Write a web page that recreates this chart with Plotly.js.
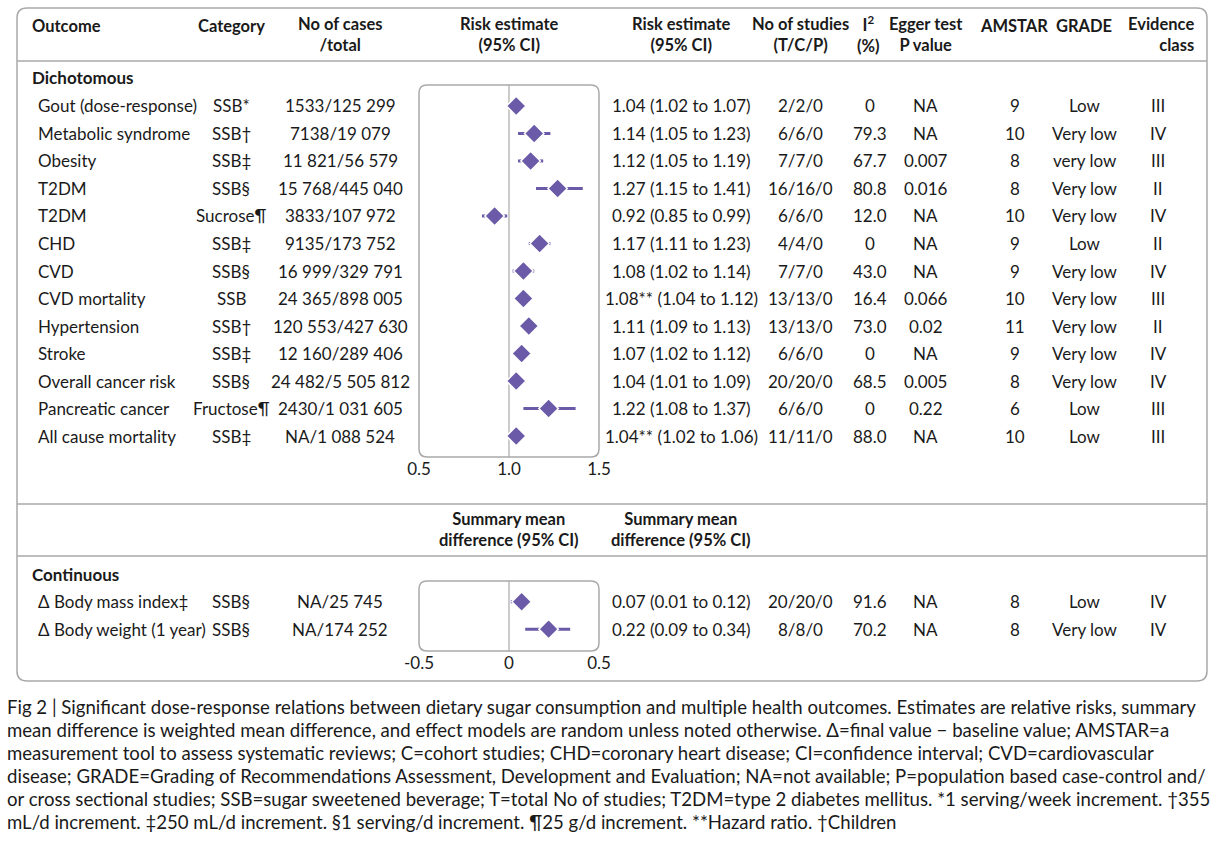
<!DOCTYPE html>
<html>
<head>
<meta charset="utf-8">
<script src="https://cdn.plot.ly/plotly-3.0.1.min.js"></script>
<style>html,body{margin:0;padding:0;background:#fff;}#chart{width:1221px;height:841px;}</style>
</head>
<body>
<div id="chart"></div>
<script>
// ---------------- DATA ----------------
const outcomes = ["Gout (dose-response)", "Metabolic syndrome", "Obesity", "T2DM", "T2DM", "CHD", "CVD", "CVD mortality", "Hypertension", "Stroke", "Overall cancer risk", "Pancreatic cancer", "All cause mortality"];
const categories = ["SSB*", "SSB†", "SSB‡", "SSB§", "Sucrose¶", "SSB‡", "SSB§", "SSB", "SSB†", "SSB‡", "SSB§", "Fructose¶", "SSB‡"];
const cases = ["1533/125 299", "7138/19 079", "11 821/56 579", "15 768/445 040", "3833/107 972", "9135/173 752", "16 999/329 791", "24 365/898 005", "120 553/427 630", "12 160/289 406", "24 482/5 505 812", "2430/1 031 605", "NA/1 088 524"];
const estimate = [1.04, 1.14, 1.12, 1.27, 0.92, 1.17, 1.08, 1.08, 1.11, 1.07, 1.04, 1.22, 1.04];
const ciLow    = [1.02, 1.05, 1.05, 1.15, 0.85, 1.11, 1.02, 1.04, 1.09, 1.02, 1.01, 1.08, 1.02];
const ciHigh   = [1.07, 1.23, 1.19, 1.41, 0.99, 1.23, 1.14, 1.12, 1.13, 1.12, 1.09, 1.37, 1.06];
const estNote  = ["", "", "", "", "", "", "", "**", "", "", "", "", "**"];
const studies = ["2/2/0", "6/6/0", "7/7/0", "16/16/0", "6/6/0", "4/4/0", "7/7/0", "13/13/0", "13/13/0", "6/6/0", "20/20/0", "6/6/0", "11/11/0"];
const i2 = ["0", "79.3", "67.7", "80.8", "12.0", "0", "43.0", "16.4", "73.0", "0", "68.5", "0", "88.0"];
const egger = ["NA", "NA", "0.007", "0.016", "NA", "NA", "NA", "0.066", "0.02", "NA", "0.005", "0.22", "NA"];
const amstar = ["9", "10", "8", "8", "10", "9", "9", "10", "11", "9", "8", "6", "10"];
const grade = ["Low", "Very low", "very low", "Very low", "Very low", "Low", "Very low", "Very low", "Very low", "Very low", "Very low", "Low", "Low"];
const evidence = ["III", "IV", "III", "II", "IV", "II", "IV", "III", "II", "IV", "IV", "III", "III"];

const contOutcomes = ["Δ Body mass index‡", "Δ Body weight (1 year)"];
const contCategories = ["SSB§", "SSB§"];
const contCases = ["NA/25 745", "NA/174 252"];
const contEstimate = [0.07, 0.22];
const contLow = [0.01, 0.09];
const contHigh = [0.12, 0.34];
const contStudies = ["20/20/0", "8/8/0"];
const contI2 = ["91.6", "70.2"];
const contEgger = ["NA", "NA"];
const contAmstar = ["8", "8"];
const contGrade = ["Low", "Very low"];
const contEvidence = ["IV", "IV"];

const riskTicks = [0.5, 1.0, 1.5];
const riskTickText = ["0.5", "1.0", "1.5"];
const diffTicks = [-0.5, 0, 0.5];
const diffTickText = ["-0.5", "0", "0.5"];

const headerLine1 = ["Outcome", "Category", "No of cases", "Risk estimate", "Risk estimate", "No of studies", "I<sup>2</sup>", "Egger test", "AMSTAR", "GRADE", "Evidence"];
const headerLine2 = ["", "", "/total", "(95% CI)", "(95% CI)", "(T/C/P)", "(%)", "P value", "", "", "class"];
const contHeaderLine1 = ["Summary mean", "Summary mean"];
const contHeaderLine2 = ["difference (95% CI)", "difference (95% CI)"];
const sectionLabels = ["Dichotomous", "Continuous"];

const captionLines = [
  "Fig 2 | Significant dose-response relations between dietary sugar consumption and multiple health outcomes. Estimates are relative risks, summary",
  "mean difference is weighted mean difference, and effect models are random unless noted otherwise. Δ=final value − baseline value; AMSTAR=a",
  "measurement tool to assess systematic reviews; C=cohort studies; CHD=coronary heart disease; CI=confidence interval; CVD=cardiovascular",
  "disease; GRADE=Grading of Recommendations Assessment, Development and Evaluation; NA=not available; P=population based case-control and/",
  "or cross sectional studies; SSB=sugar sweetened beverage; T=total No of studies; T2DM=type 2 diabetes mellitus. *1 serving/week increment. †355",
  "mL/d increment. ‡250 mL/d increment. §1 serving/d increment. ¶25 g/d increment. **Hazard ratio. †Children"
];

// ---------------- LAYOUT HELPERS ----------------
const W = 1221, H = 841;
const px = x => x / W;
const py = y => 1 - y / H;
const FONT = "Lato, 'Open Sans', sans-serif";
const TXT = "#1a1a1a";
const PURPLE = "#6a5aa7";
const GREY = "#a9a9a9";
const FS = 17;
const HFS = 16.5;

// column positions (pixels) and anchors
const colX = [31, 231, 340, 509, 681, 800, 868, 926, 1014, 1084, 1195];
const colAnchor = ["left", "center", "center", "center", "center", "center", "center", "center", "center", "center", "right"];
const rowColX = {outcome: 37, category: 231, cases: 340, est: 681, studies: 800, i2: 870, egger: 926, amstar: 1015, grade: 1085, evid: 1158};

function ann(text, x, y, yref, anchor, opts) {
  opts = opts || {};
  return {
    text: text, x: px(x), xref: "paper", y: y, yref: yref,
    xanchor: anchor, yanchor: "middle", align: anchor === "left" ? "left" : (anchor === "right" ? "right" : "center"),
    showarrow: false,
    font: {family: opts.family || FONT, size: opts.size || FS, color: TXT},
    borderpad: 0
  };
}

function roundRect(x0, y0, x1, y1, r) {
  const P = (x, y) => px(x).toFixed(5) + "," + py(y).toFixed(5);
  return "M" + P(x0 + r, y0) + " L" + P(x1 - r, y0) + " Q" + P(x1, y0) + " " + P(x1, y0 + r) +
    " L" + P(x1, y1 - r) + " Q" + P(x1, y1) + " " + P(x1 - r, y1) +
    " L" + P(x0 + r, y1) + " Q" + P(x0, y1) + " " + P(x0, y1 - r) +
    " L" + P(x0, y0 + r) + " Q" + P(x0, y0) + " " + P(x0 + r, y0) + " Z";
}

const fmt = v => v.toFixed(2);
const annotations = [];

// headers (two-line headers drawn as one text each)
headerLine1.forEach((t, k) => {
  const two = headerLine2[k] !== "";
  const txt = two ? "<b>" + t + "</b><br><b>" + headerLine2[k] + "</b>" : "<b>" + t + "</b>";
  annotations.push(ann(txt, colX[k], py(two ? 35 : 26), "paper", colAnchor[k], {size: HFS}));
});
annotations.push(ann("<b>" + sectionLabels[0] + "</b>", 31, py(78), "paper", "left"));
annotations.push(ann("<b>" + sectionLabels[1] + "</b>", 31, py(574), "paper", "left"));
contHeaderLine1.forEach((t, k) => annotations.push(ann("<b>" + t + "</b><br><b>" + contHeaderLine2[k] + "</b>", [509, 681][k], py(529), "paper", "center", {size: HFS})));

// dichotomous rows
outcomes.forEach((o, i) => {
  const yr = "y";
  annotations.push(ann(o, rowColX.outcome, i, yr, "left"));
  annotations.push(ann(categories[i], rowColX.category, i, yr, "center"));
  annotations.push(ann(cases[i], rowColX.cases, i, yr, "center"));
  annotations.push(ann(fmt(estimate[i]) + estNote[i] + " (" + fmt(ciLow[i]) + " to " + fmt(ciHigh[i]) + ")", rowColX.est, i, yr, "center"));
  annotations.push(ann(studies[i], rowColX.studies, i, yr, "center"));
  annotations.push(ann(i2[i], rowColX.i2, i, yr, "center"));
  annotations.push(ann(egger[i], rowColX.egger, i, yr, "center"));
  annotations.push(ann(amstar[i], rowColX.amstar, i, yr, "center"));
  annotations.push(ann(grade[i], rowColX.grade, i, yr, "center"));
  annotations.push(ann(evidence[i], rowColX.evid, i, yr, "center"));
});
// continuous rows
contOutcomes.forEach((o, i) => {
  const yr = "y2";
  annotations.push(ann(o, rowColX.outcome, i, yr, "left"));
  annotations.push(ann(contCategories[i], rowColX.category, i, yr, "center"));
  annotations.push(ann(contCases[i], rowColX.cases, i, yr, "center"));
  annotations.push(ann(fmt(contEstimate[i]) + " (" + fmt(contLow[i]) + " to " + fmt(contHigh[i]) + ")", rowColX.est, i, yr, "center"));
  annotations.push(ann(contStudies[i], rowColX.studies, i, yr, "center"));
  annotations.push(ann(contI2[i], rowColX.i2, i, yr, "center"));
  annotations.push(ann(contEgger[i], rowColX.egger, i, yr, "center"));
  annotations.push(ann(contAmstar[i], rowColX.amstar, i, yr, "center"));
  annotations.push(ann(contGrade[i], rowColX.grade, i, yr, "center"));
  annotations.push(ann(contEvidence[i], rowColX.evid, i, yr, "center"));
});
// caption
captionLines.forEach((t, k) => annotations.push(ann(t, 6, py(707 + 23 * k), "paper", "left", {size: 18.6})));

const shapes = [
  {type: "path", xref: "paper", yref: "paper", path: roundRect(17, 8, 1207, 681, 10), line: {color: GREY, width: 1.5}},
  {type: "line", xref: "paper", yref: "paper", x0: px(17), x1: px(1207), y0: py(61), y1: py(61), line: {color: GREY, width: 1.5}},
  {type: "line", xref: "paper", yref: "paper", x0: px(17), x1: px(1207), y0: py(504), y1: py(504), line: {color: GREY, width: 1.5}},
  {type: "line", xref: "paper", yref: "paper", x0: px(17), x1: px(1207), y0: py(556), y1: py(556), line: {color: GREY, width: 1.5}},
  {type: "path", xref: "paper", yref: "paper", path: roundRect(419, 85, 599, 457, 8), line: {color: GREY, width: 1.5}},
  {type: "path", xref: "paper", yref: "paper", path: roundRect(419, 581, 599, 651, 8), line: {color: GREY, width: 1.5}},
  {type: "line", xref: "x", yref: "paper", x0: 1, x1: 1, y0: py(457), y1: py(85), line: {color: GREY, width: 1.2}, layer: "below"},
  {type: "line", xref: "x2", yref: "paper", x0: 0, x1: 0, y0: py(651), y1: py(581), line: {color: GREY, width: 1.2}, layer: "below"}
];

const rowIdx = outcomes.map((_, i) => i);
const contIdx = contOutcomes.map((_, i) => i);

const traces = [
  {
    type: "scatter", mode: "markers", x: estimate, y: rowIdx, xaxis: "x", yaxis: "y",
    marker: {symbol: "diamond", size: 15, color: PURPLE, line: {color: "#ffffff", width: 1.5}},
    error_x: {type: "data", symmetric: false, array: estimate.map((v, i) => ciHigh[i] - v), arrayminus: estimate.map((v, i) => v - ciLow[i]), color: PURPLE, thickness: 3, width: 0},
    hoverinfo: "skip", cliponaxis: false
  },
  {
    type: "scatter", mode: "markers", x: contEstimate, y: contIdx, xaxis: "x2", yaxis: "y2",
    marker: {symbol: "diamond", size: 15, color: PURPLE, line: {color: "#ffffff", width: 1.5}},
    error_x: {type: "data", symmetric: false, array: contEstimate.map((v, i) => contHigh[i] - v), arrayminus: contEstimate.map((v, i) => v - contLow[i]), color: PURPLE, thickness: 3, width: 0},
    hoverinfo: "skip", cliponaxis: false
  }
];

const axisCommon = {showgrid: false, zeroline: false, showline: false, ticks: "", fixedrange: true,
  tickfont: {family: FONT, size: FS, color: TXT}};
const layout = {
  width: W, height: H, margin: {l: 0, r: 0, t: 0, b: 0},
  paper_bgcolor: "#ffffff", plot_bgcolor: "rgba(0,0,0,0)", showlegend: false,
  font: {family: FONT, size: FS, color: TXT},
  xaxis: Object.assign({}, axisCommon, {domain: [px(419), px(599)], range: [0.5, 1.5], tickvals: riskTicks, ticktext: riskTickText, anchor: "y"}),
  yaxis: {domain: [py(457), py(85)], range: [12.76, -0.76], visible: false, fixedrange: true, anchor: "x"},
  xaxis2: Object.assign({}, axisCommon, {domain: [px(419), px(599)], range: [-0.5, 0.5], tickvals: diffTicks, ticktext: diffTickText, anchor: "y2"}),
  yaxis2: {domain: [py(651), py(581)], range: [1.8, -0.76], visible: false, fixedrange: true, anchor: "x2"},
  shapes: shapes,
  annotations: annotations
};

Plotly.newPlot("chart", traces, layout, {displayModeBar: false, staticPlot: true});
</script>
</body>
</html>
